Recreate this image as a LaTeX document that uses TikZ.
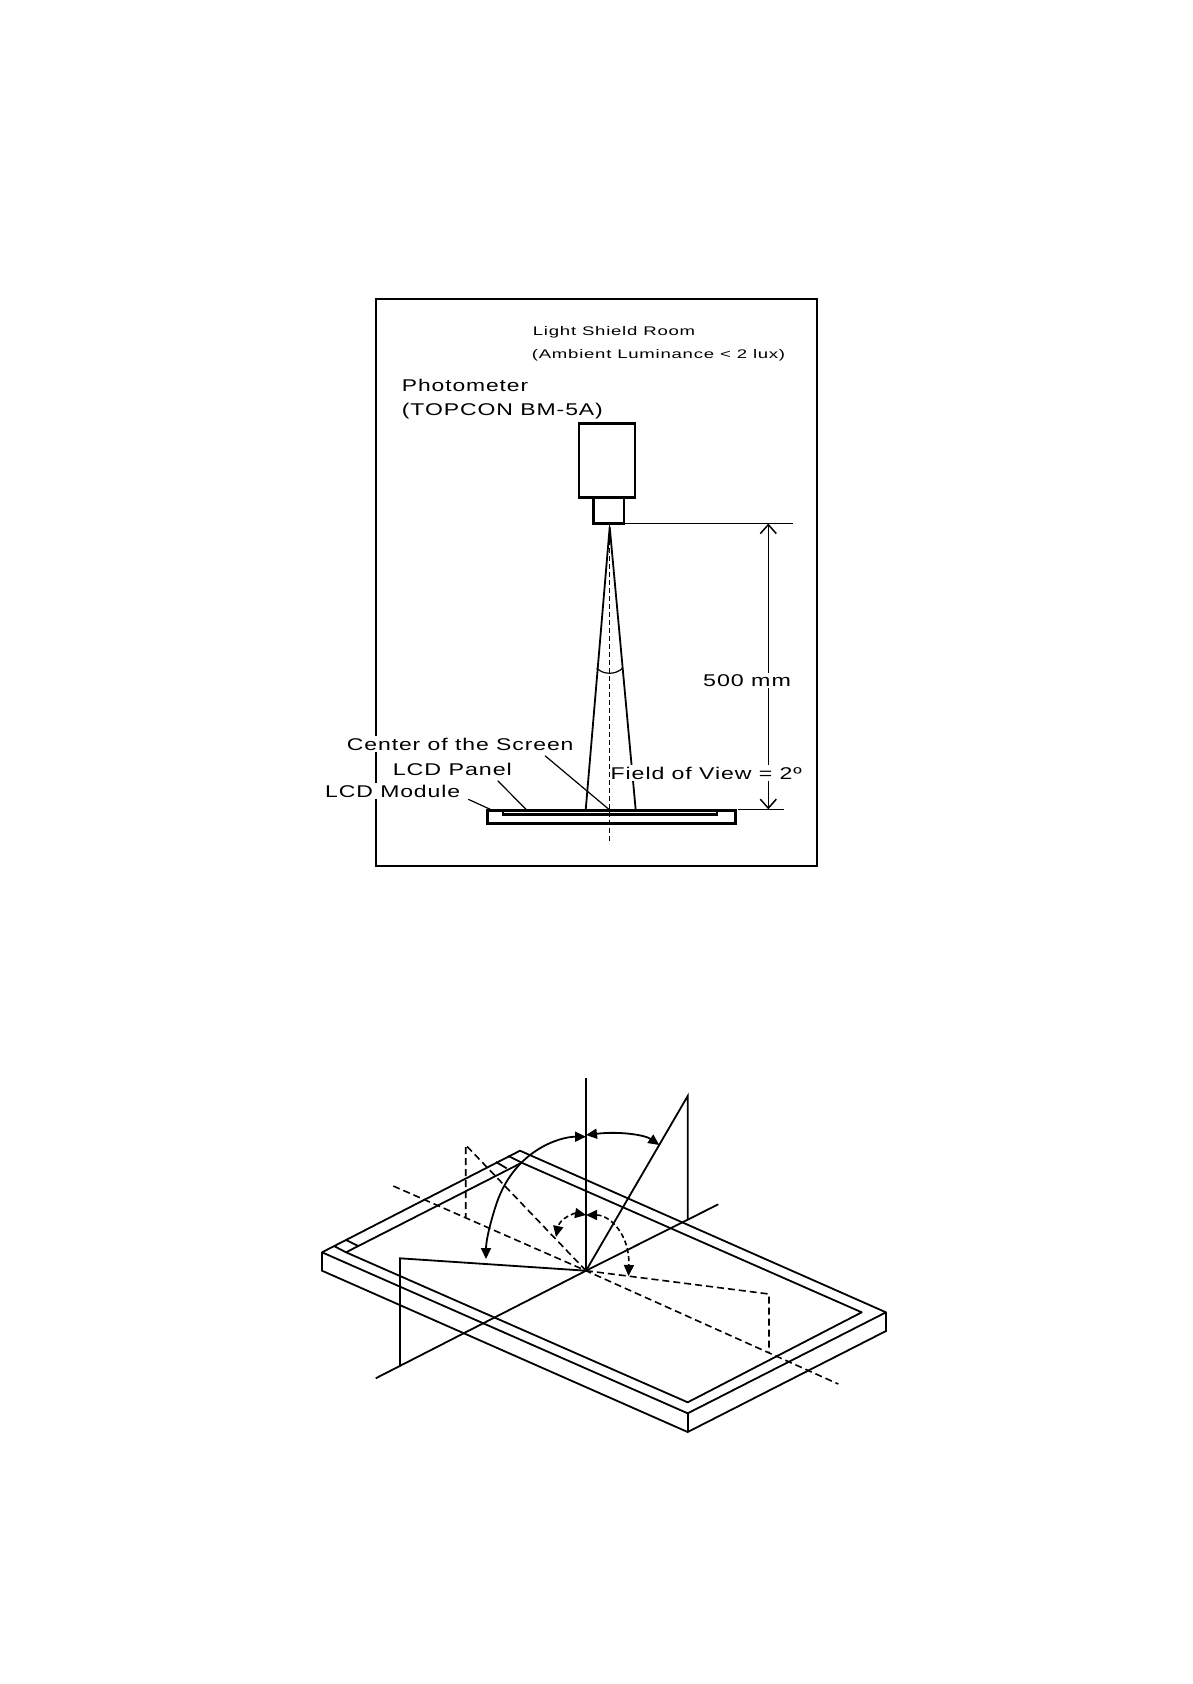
\documentclass[tikz,border=0pt]{standalone}
\usepackage{fontspec}
\usepackage{graphicx}
\usetikzlibrary{arrows.meta}
\newfontfamily\lblfont[LetterSpace=4]{Liberation Sans}
\newcommand{\wlbl}[2]{\resizebox{#1pt}{\height}{#2}}

\begin{document}
\begin{tikzpicture}[x=1pt,y=-1pt,
    ln/.style={draw,line width=1.8pt},
    thin/.style={draw,line width=1.2pt},
    bx/.style={draw,line width=2.8pt},
    dsh/.style={draw,line width=1.6pt,dash pattern=on 7pt off 4pt},
    dim/.style={draw,line width=1.5pt,{Straight Barb[length=9pt,width=16pt]}-{Straight Barb[length=9pt,width=16pt]}},
    lbl/.style={anchor=base west,inner xsep=0pt,inner ysep=1.5pt,fill=white,font=\lblfont\fontsize{17}{20}\selectfont},
    sml/.style={lbl,font=\lblfont\fontsize{12.5}{15}\selectfont},
    tip/.tip={Triangle[length=11pt,width=10pt]}]
  \useasboundingbox (0,0) rectangle (1192,1684);

  % measuring set-up
  \coordinate (c) at (609.7,810);
  \coordinate (apex) at (609.7,527);
  \draw[ln] (375.7,299) rectangle (816.7,865.7);
  \draw[bx] (579,423.3) rectangle (635,497.7);
  \draw[bx] (593.7,497.7) rectangle (624,523.7);
  \draw[bx] (487.7,810.7) rectangle (735.7,823.3);
  \draw[bx] (503,810.7) rectangle (717,814.3);
  \draw[thin] (624,523.5) -- (793,523.5);
  \draw[thin] (738,809.3) -- (784,809.3);
  \draw[dim] (768.3,523.5) -- (768.3,809.3);
  \draw[ln] (585.7,810) -- (apex) -- (635.7,810);
  \draw[thin] (596.7,668) .. controls (603,675) and (616,675) .. (622.7,668);
  \draw[thin] (545,755.7) -- (c);
  \draw[thin] (497.7,780.7) -- (526.7,810);
  \draw[thin] (468.3,799.3) -- (491.7,810);

  \node[sml] (room) at (532.7,335) {\wlbl{162.3}{Light Shield Room}};
  \node[sml] (lux) at (531.7,358) {\wlbl{253.3}{(Ambient Luminance < 2 lux)}};
  \node[lbl] (photo) at (401.7,391.7) {\wlbl{126.3}{Photometer}};
  \node[lbl] (topcon) at (401.7,415) {\wlbl{201}{(TOPCON BM-5A)}};
  \node[lbl] (dist) at (703,686.7) {\wlbl{87.7}{500 mm}};
  \node[lbl] (center) at (346.7,750) {\wlbl{226.6}{Center of the Screen}};
  \node[lbl] (panel) at (392.7,775.7) {\wlbl{119}{LCD Panel}};
  \node[lbl] (module) at (325,797.3) {\wlbl{135}{LCD Module}};
  \node[lbl] (fov) at (610.5,779) {\wlbl{191.2}{Field of View = 2º}};
  \draw[line width=1.5pt,dash pattern=on 5pt off 3pt] (609.7,524) -- (609.7,842.7);
  \draw[line width=1.2pt] (609.7,524) -- (609.7,535);

  % viewing angles on the module
  \coordinate (o) at (586,1270.7);
  \coordinate (lf) at (322,1252.3);
  \coordinate (tp) at (520,1150.7);
  \coordinate (rt) at (886,1312.3);
  \coordinate (bt) at (687.7,1413.3);
  \coordinate (il) at (346,1252.3);
  \coordinate (it) at (521.7,1162.7);
  \coordinate (ir) at (861.7,1312.3);
  \coordinate (ib) at (687.7,1402.3);
  \draw[ln,line join=round] (lf) -- (tp) -- (rt) -- (bt) -- cycle;
  \draw[ln,line join=round] (il) -- (it) -- (ir) -- (ib) -- cycle;
  \draw[ln] (lf) -- (322,1270.7) -- (687.7,1432) -- (886,1331) -- (rt);
  \draw[ln] (bt) -- (687.7,1432);
  \draw[ln] (334,1246) -- (il);
  \draw[ln] (346,1240) -- (358.3,1246);
  \draw[ln] (496,1162) -- (506.7,1168.3);
  \draw[ln] (508.3,1156) -- (it);

  \draw[ln] (586,1078.3) -- (o);
  \draw[ln] (375.7,1378.3) -- (o) -- (718.3,1204.3);
  \draw[ln] (o) -- (687.7,1096) -- (687.7,1219.3);
  \draw[ln] (o) -- (400,1258.3) -- (400,1366);
  \draw[dsh] (393.3,1186) -- (o) -- (838.3,1384);
  \draw[dsh] (o) -- (465.7,1145) -- (465.7,1217.3);
  \draw[dsh] (o) -- (769,1294) -- (769,1352.7);

  \draw[ln,tip-tip] (586,1136.7) .. controls (560,1136.7) and (515,1150) .. (496.7,1203) .. controls (491,1220) and (486,1240) .. (486,1259);
  \draw[ln,tip-tip] (586,1135) .. controls (620,1131) and (645,1135) .. (659.3,1145);
  \draw[line width=1.6pt,dash pattern=on 5pt off 3pt,tip-tip] (586,1215) .. controls (575,1213) and (560,1218) .. (556,1237);
  \draw[line width=1.6pt,dash pattern=on 5pt off 3pt,tip-tip] (586,1215) .. controls (610,1215) and (630,1235) .. (628.5,1276);
\end{tikzpicture}
\end{document}
